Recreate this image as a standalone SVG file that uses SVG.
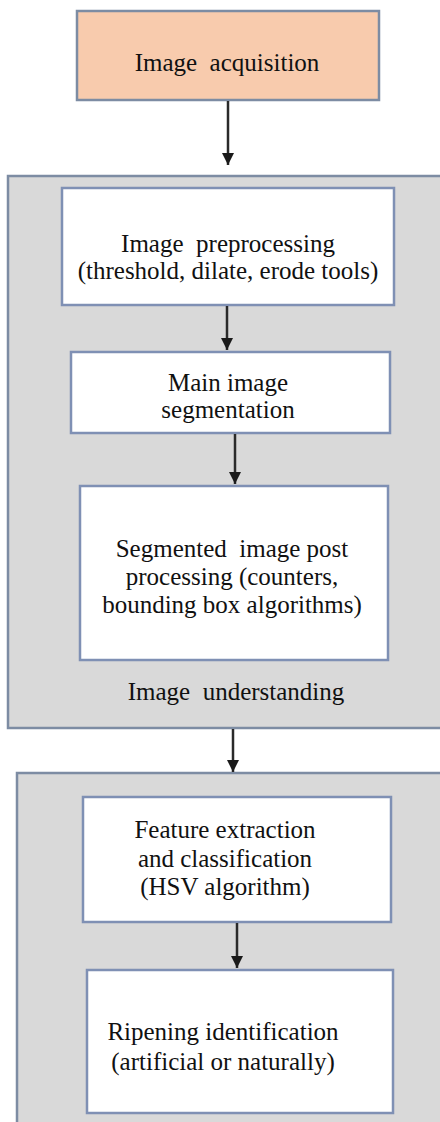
<svg xmlns="http://www.w3.org/2000/svg" width="440" height="1122" viewBox="0 0 440 1122">
  <defs>
    <marker id="head" viewBox="0 0 12 12" refX="12" refY="6" markerWidth="12" markerHeight="12" markerUnits="userSpaceOnUse" orient="auto">
      <path d="M0,0 L12,6 L0,12 Z" fill="#1a1a1a"/>
    </marker>
    <style>
      .stage { fill: #d9d9d9; stroke: #7d8ca3; stroke-width: 2.5; }
      .box { fill: #ffffff; stroke: #7f90b4; stroke-width: 2.5; }
      .start { fill: #f8cbad; stroke: #7d8ca3; stroke-width: 2.5; }
      .flow { stroke: #2a2a2a; stroke-width: 2.5; fill: none; marker-end: url(#head); }
      .label { font-family: 'Liberation Serif', 'Times New Roman', serif; font-size: 25px; fill: #111111; text-anchor: middle; }
    </style>
  </defs>

  <rect width="440" height="1122" fill="#ffffff"/>

  <!-- stage containers -->
  <g id="stage-understanding">
    <rect class="stage" x="8" y="176" width="450" height="552"/>
    <text class="label" x="236" y="700" xml:space="preserve">Image  understanding</text>
  </g>
  <g id="stage-classification">
    <rect class="stage" x="17" y="773" width="450" height="370"/>
  </g>

  <!-- process steps -->
  <g id="acquisition">
    <rect class="start" x="77" y="11" width="302" height="89"/>
    <text class="label" x="227" y="71" xml:space="preserve">Image  acquisition</text>
  </g>

  <g id="preprocessing">
    <rect class="box" x="62" y="188" width="332" height="117"/>
    <text class="label" x="228" y="252" xml:space="preserve">Image  preprocessing</text>
    <text class="label" x="228" y="279">(threshold, dilate, erode tools)</text>
  </g>

  <g id="segmentation">
    <rect class="box" x="71" y="352" width="319" height="81"/>
    <text class="label" x="228" y="391">Main image</text>
    <text class="label" x="228" y="418">segmentation</text>
  </g>

  <g id="postprocessing">
    <rect class="box" x="80" y="486" width="308" height="174"/>
    <text class="label" x="232" y="557" xml:space="preserve">Segmented  image post</text>
    <text class="label" x="232" y="585">processing (counters,</text>
    <text class="label" x="232" y="613">bounding box algorithms)</text>
  </g>

  <g id="features">
    <rect class="box" x="83" y="797" width="308" height="125"/>
    <text class="label" x="225" y="838">Feature extraction</text>
    <text class="label" x="225" y="867">and classification</text>
    <text class="label" x="225" y="895">(HSV algorithm)</text>
  </g>

  <g id="ripening">
    <rect class="box" x="87" y="970" width="306" height="143"/>
    <text class="label" x="223" y="1040">Ripening identification</text>
    <text class="label" x="223" y="1070">(artificial or naturally)</text>
  </g>

  <!-- connectors -->
  <g id="connectors">
    <line class="flow" x1="228" y1="101" x2="228" y2="165"/>
    <line class="flow" x1="227" y1="306" x2="227" y2="350"/>
    <line class="flow" x1="235" y1="434" x2="235" y2="484"/>
    <line class="flow" x1="233" y1="729" x2="233" y2="772"/>
    <line class="flow" x1="237" y1="923" x2="237" y2="968"/>
  </g>
</svg>
